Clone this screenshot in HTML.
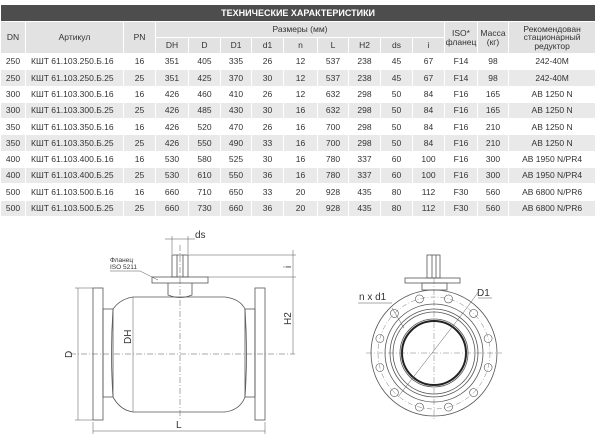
<!DOCTYPE html>
<html><head><meta charset="utf-8"><style>
body{margin:0;width:600px;height:448px;background:#fff;position:relative;overflow:hidden;font-family:"Liberation Sans",sans-serif}
table{position:absolute;left:0;top:4px;border-collapse:collapse;table-layout:fixed;width:595px;font-size:8.5px;color:#333}
td{text-align:center;padding:0;border:1px solid #fff;white-space:nowrap;overflow:hidden;line-height:1}
.t td{background:#4d4d4d;color:#fff;font-weight:bold;height:16px;text-align:right;padding-right:240px;font-size:9px}
.h td{background:#e2e2e2;height:15px}
tr.d td{height:15.3px}
tr.g td{background:#e9e9e9}
td.l{text-align:left;padding-left:5px}
svg{position:absolute;left:0;top:0}
</style></head><body>
<table>
<colgroup><col style="width:25px"><col style="width:98px"><col style="width:32px"><col style="width:33px"><col style="width:32px"><col style="width:31px"><col style="width:32px"><col style="width:34px"><col style="width:31px"><col style="width:32px"><col style="width:32px"><col style="width:32px"><col style="width:33px"><col style="width:31px"><col style="width:87px"></colgroup>
<tr class="t"><td colspan="15" style="text-align:center;padding:0">ТЕХНИЧЕСКИЕ ХАРАКТЕРИСТИКИ</td></tr>
<tr class="h"><td rowspan="2">DN</td><td rowspan="2">Артикул</td><td rowspan="2">PN</td><td colspan="9">Размеры (мм)</td><td rowspan="2">ISO*<br>фланец</td><td rowspan="2">Масса<br>(кг)</td><td rowspan="2">Рекомендован<br>стационарный<br>редуктор</td></tr>
<tr class="h"><td>DH</td><td>D</td><td>D1</td><td>d1</td><td>n</td><td>L</td><td>H2</td><td>ds</td><td>i</td></tr>
<tr class="d"><td>250</td><td class="l">КШТ 61.103.250.Б.16</td><td>16</td><td>351</td><td>405</td><td>335</td><td>26</td><td>12</td><td>537</td><td>238</td><td>45</td><td>67</td><td>F14</td><td>98</td><td>242-40M</td></tr>
<tr class="d g"><td>250</td><td class="l">КШТ 61.103.250.Б.25</td><td>25</td><td>351</td><td>425</td><td>370</td><td>30</td><td>12</td><td>537</td><td>238</td><td>45</td><td>67</td><td>F14</td><td>98</td><td>242-40M</td></tr>
<tr class="d"><td>300</td><td class="l">КШТ 61.103.300.Б.16</td><td>16</td><td>426</td><td>460</td><td>410</td><td>26</td><td>12</td><td>632</td><td>298</td><td>50</td><td>84</td><td>F16</td><td>165</td><td>AB 1250 N</td></tr>
<tr class="d g"><td>300</td><td class="l">КШТ 61.103.300.Б.25</td><td>25</td><td>426</td><td>485</td><td>430</td><td>30</td><td>16</td><td>632</td><td>298</td><td>50</td><td>84</td><td>F16</td><td>165</td><td>AB 1250 N</td></tr>
<tr class="d"><td>350</td><td class="l">КШТ 61.103.350.Б.16</td><td>16</td><td>426</td><td>520</td><td>470</td><td>26</td><td>16</td><td>700</td><td>298</td><td>50</td><td>84</td><td>F16</td><td>210</td><td>AB 1250 N</td></tr>
<tr class="d g"><td>350</td><td class="l">КШТ 61.103.350.Б.25</td><td>25</td><td>426</td><td>550</td><td>490</td><td>33</td><td>16</td><td>700</td><td>298</td><td>50</td><td>84</td><td>F16</td><td>210</td><td>AB 1250 N</td></tr>
<tr class="d"><td>400</td><td class="l">КШТ 61.103.400.Б.16</td><td>16</td><td>530</td><td>580</td><td>525</td><td>30</td><td>16</td><td>780</td><td>337</td><td>60</td><td>100</td><td>F16</td><td>300</td><td>AB 1950 N/PR4</td></tr>
<tr class="d g"><td>400</td><td class="l">КШТ 61.103.400.Б.25</td><td>25</td><td>530</td><td>610</td><td>550</td><td>36</td><td>16</td><td>780</td><td>337</td><td>60</td><td>100</td><td>F16</td><td>300</td><td>AB 1950 N/PR4</td></tr>
<tr class="d"><td>500</td><td class="l">КШТ 61.103.500.Б.16</td><td>16</td><td>660</td><td>710</td><td>650</td><td>33</td><td>20</td><td>928</td><td>435</td><td>80</td><td>112</td><td>F30</td><td>560</td><td>AB 6800 N/PR6</td></tr>
<tr class="d g"><td>500</td><td class="l">КШТ 61.103.500.Б.25</td><td>25</td><td>660</td><td>730</td><td>660</td><td>36</td><td>20</td><td>928</td><td>435</td><td>80</td><td>112</td><td>F30</td><td>560</td><td>AB 6800 N/PR6</td></tr>
</table>
<svg width="600" height="448" viewBox="0 0 600 448" fill="none" stroke="#555" stroke-width="0.8" font-family="Liberation Sans, sans-serif">
<!-- left view -->
<rect x="93" y="288" width="10" height="132"/>
<rect x="255" y="288" width="10" height="132"/>
<rect x="103" y="309" width="10" height="88"/>
<rect x="245" y="309" width="10" height="88"/>
<path d="M113 309 Q120 299 133 297 L225 297 Q240 299 245 309 M113 397 Q120 410 133 412 L225 412 Q240 410 245 397"/>
<path d="M113 309 Q110 354 113 397 M245 309 Q248 354 245 397"/>
<rect x="152" y="277" width="56" height="6"/>
<rect x="172" y="255" width="16" height="22"/>
<line x1="177" y1="255" x2="177" y2="277"/><line x1="183" y1="255" x2="183" y2="277"/>
<path d="M168 283 L168 295 Q180 300 192 295 L192 283"/>
<g stroke-dasharray="6 2 1 2" stroke-width="0.5">
<line x1="70" y1="354" x2="295" y2="354"/><line x1="180" y1="245" x2="180" y2="420"/>
</g>
<g stroke-width="0.5">
<line x1="188" y1="255" x2="296" y2="255"/><line x1="208" y1="277" x2="296" y2="277"/>
<line x1="293" y1="250" x2="293" y2="354"/>
<line x1="172" y1="236" x2="172" y2="254"/><line x1="188" y1="236" x2="188" y2="254"/>
<line x1="165" y1="239" x2="195" y2="239"/>
<line x1="75" y1="288" x2="93" y2="288"/><line x1="75" y1="420" x2="93" y2="420"/>
<line x1="78" y1="288" x2="78" y2="420"/>
<line x1="133" y1="297" x2="133" y2="412"/>
<line x1="93" y1="422" x2="93" y2="434"/><line x1="265" y1="422" x2="265" y2="434"/>
<line x1="93" y1="431" x2="265" y2="431"/>
<line x1="110" y1="271" x2="140" y2="271"/><line x1="140" y1="271" x2="158" y2="280"/>
</g>
<g fill="#333" stroke="none" font-size="9">
<text x="195" y="238" font-size="10">ds</text>
<text x="176" y="428" font-size="10">L</text>
<text transform="translate(72 358) rotate(-90)" font-size="10">D</text>
<text transform="translate(131 344) rotate(-90)" font-size="10">DH</text>
<text transform="translate(291 325) rotate(-90)" font-size="10">H2</text>
<text transform="translate(291 268) rotate(-90)" font-size="10">i</text>
<text x="110" y="262" font-size="6.5">Фланец</text>
<text x="110" y="269" font-size="6.5">ISO 5211</text>
</g>
<!-- right view -->
<g transform="translate(434 353)">
<circle r="63"/><circle r="49"/><circle r="44"/><circle r="41"/><circle r="34"/>
<circle r="32" stroke-width="2" stroke="#222"/>
<circle r="56" stroke-width="0.4" stroke-dasharray="5 2 1 2"/>
<g stroke-width="0.6">
<circle cx="14.5" cy="-54.1" r="4"/><circle cx="-14.5" cy="-54.1" r="4"/>
<circle cx="39.6" cy="-39.6" r="4"/><circle cx="-39.6" cy="-39.6" r="4"/>
<circle cx="54.1" cy="-14.5" r="4"/><circle cx="-54.1" cy="-14.5" r="4"/>
<circle cx="54.1" cy="14.5" r="4"/><circle cx="-54.1" cy="14.5" r="4"/>
<circle cx="39.6" cy="39.6" r="4"/><circle cx="-39.6" cy="39.6" r="4"/>
<circle cx="14.5" cy="54.1" r="4"/><circle cx="-14.5" cy="54.1" r="4"/>
</g>
<g stroke-width="0.4" stroke-dasharray="6 2 1 2"><line x1="-68" y1="0" x2="68" y2="0"/><line x1="0" y1="-75" x2="0" y2="68"/></g>
<line x1="-36" y1="44" x2="32" y2="-44" stroke-width="0.5"/>
<line x1="32" y1="-44" x2="45" y2="-62" stroke-width="0.5"/>
<line x1="-42" y1="-45" x2="-30" y2="-25" stroke-width="0.5"/>
</g>
<rect x="405" y="278" width="55" height="5"/>
<rect x="427" y="255" width="13" height="23"/>
<line x1="432" y1="255" x2="432" y2="278"/><line x1="436" y1="255" x2="436" y2="278"/>
<rect x="422" y="283" width="25" height="7"/>
<line x1="358" y1="303" x2="392" y2="303" stroke-width="0.5"/>
<line x1="478" y1="298" x2="492" y2="298" stroke-width="0.5"/>
<g fill="#333" stroke="none" font-size="10">
<text x="359" y="300">n x d1</text>
<text x="477" y="296">D1</text>
</g>
</svg>
</body></html>
